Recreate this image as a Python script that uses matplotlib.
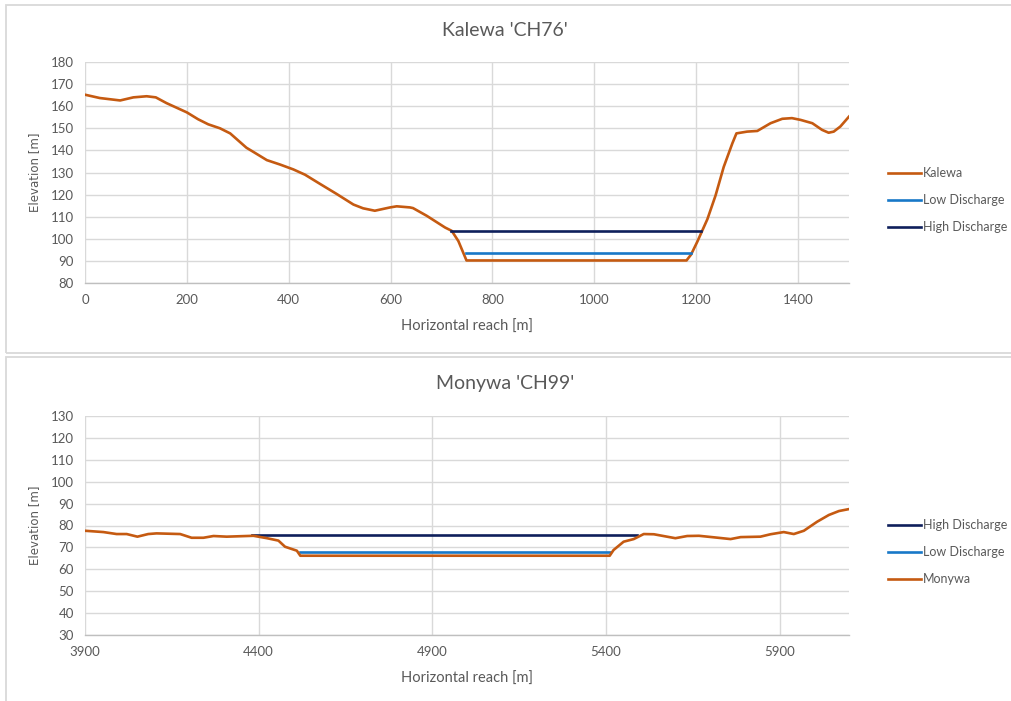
import matplotlib
matplotlib.use("Agg")
import matplotlib.pyplot as plt
from matplotlib.patches import Rectangle

# ---- Kalewa cross-section 'CH76' ----
kalewa_x = [0, 29, 69, 95, 121, 139, 160, 200, 222, 242, 265, 285, 317, 330, 357,
            383, 409, 432, 461, 494, 527, 546, 569, 599, 612, 638, 644, 671, 707,
            720, 733, 749, 1181, 1190, 1202, 1222, 1238, 1254, 1271, 1279, 1300,
            1320, 1346, 1369, 1388, 1405, 1428, 1447, 1460, 1470, 1483, 1500]
kalewa_z = [165.2, 163.7, 162.6, 164.0, 164.5, 164.0, 161.4, 157.2, 154.1, 151.8,
            150.0, 147.7, 141.2, 139.4, 135.6, 133.6, 131.4, 129.0, 124.9, 120.3,
            115.5, 113.8, 112.7, 114.2, 114.7, 114.2, 113.9, 110.4, 105.1, 103.6,
            99.0, 90.2, 90.2, 92.9, 98.6, 108.9, 119.6, 132.5, 143.2, 147.7, 148.5,
            148.8, 152.3, 154.3, 154.6, 153.8, 152.3, 149.3, 148.0, 148.5, 150.8,
            155.3]
kalewa_low_x = [748, 1190]
kalewa_low_z = [93.5, 93.5]
kalewa_high_x = [718, 1210]
kalewa_high_z = [103.6, 103.6]

# ---- Monywa cross-section 'CH99' ----
monywa_x = [3900, 3953, 3991, 4020, 4051, 4082, 4106, 4174, 4207, 4241, 4270, 4308,
            4385, 4424, 4457, 4476, 4510, 4520, 5411, 5422, 5451, 5480, 5509, 5538,
            5600, 5634, 5668, 5711, 5759, 5788, 5845, 5874, 5912, 5941, 5970, 6008,
            6042, 6071, 6100]
monywa_z = [77.6, 77.0, 76.1, 76.1, 74.9, 76.1, 76.4, 76.1, 74.4, 74.4, 75.2, 74.9,
            75.3, 74.2, 73.1, 70.3, 68.5, 66.2, 66.2, 68.8, 72.6, 73.8, 76.1, 76.0,
            74.2, 75.2, 75.3, 74.6, 73.8, 74.7, 74.9, 76.0, 77.0, 76.1, 77.6, 81.7,
            84.8, 86.6, 87.5]
monywa_low_x = [4520, 5411]
monywa_low_z = [68.0, 68.0]
monywa_high_x = [4380, 5490]
monywa_high_z = [75.5, 75.5]

ORANGE = "#C55A11"
LOWBLUE = "#1878C8"
NAVY = "#0E1F5B"
GRID = "#D9D9D9"
TEXT = "#595959"
FONT = ["Lato", "DejaVu Sans"]

plt.rcParams["font.family"] = FONT

W, H = 1011, 701
fig = plt.figure(figsize=(W / 100, H / 100), dpi=100)


def fx(px):
    return px / W


def fy(py):
    return 1 - py / H


# panel frames
fig.patches.append(Rectangle((fx(6), fy(353)), fx(1020 - 6), fy(5) - fy(353),
                             transform=fig.transFigure, fill=False,
                             edgecolor=GRID, linewidth=1.3, zorder=0))
fig.patches.append(Rectangle((fx(6), fy(720)), fx(1020 - 6), fy(357) - fy(720),
                             transform=fig.transFigure, fill=False,
                             edgecolor=GRID, linewidth=1.3, zorder=0))


def style_axes(ax, xlim, ylim, xticks, yticks):
    ax.set_xlim(*xlim)
    ax.set_ylim(*ylim)
    ax.set_xticks(xticks)
    ax.set_yticks(yticks)
    ax.grid(True, color=GRID, linewidth=1.0)
    ax.set_axisbelow(True)
    for s in ("top", "right", "left"):
        ax.spines[s].set_visible(False)
    ax.spines["bottom"].set_color("#BFBFBF")
    ax.spines["bottom"].set_linewidth(1.0)
    ax.tick_params(length=0, labelsize=9.5, colors=TEXT, pad=8)
    ax.set_xlabel("Horizontal reach [m]", fontsize=10.5, color=TEXT, labelpad=10)
    ax.set_ylabel("Elevation [m]", fontsize=8.5, color=TEXT, labelpad=7,
                  family="DejaVu Sans")


lw = 1.9
legend_kw = dict(loc="center left", frameon=False, fontsize=9, labelcolor=TEXT,
                 handlelength=2.6, handletextpad=0.2, labelspacing=1.2, borderpad=0)

# top chart
ax1 = fig.add_axes([fx(85), fy(283), fx(849) - fx(85), fy(62) - fy(283)])
style_axes(ax1, (0, 1500), (80, 180), range(0, 1401, 200), range(80, 181, 10))
l_k, = ax1.plot(kalewa_x, kalewa_z, color=ORANGE, lw=lw, label="Kalewa")
l_kl, = ax1.plot(kalewa_low_x, kalewa_low_z, color=LOWBLUE, lw=lw, label="Low Discharge")
l_kh, = ax1.plot(kalewa_high_x, kalewa_high_z, color=NAVY, lw=lw, label="High Discharge")
fig.text(fx(505), fy(31), "Kalewa 'CH76'", ha="center", va="center",
         fontsize=14, color=TEXT)
fig.legend(handles=[l_k, l_kl, l_kh], bbox_to_anchor=(fx(882), fy(200)), **legend_kw)

# bottom chart
ax2 = fig.add_axes([fx(85), fy(635), fx(849) - fx(85), fy(416) - fy(635)])
style_axes(ax2, (3900, 6100), (30, 130), range(3900, 6000, 500), range(30, 131, 10))
l_mh, = ax2.plot(monywa_high_x, monywa_high_z, color=NAVY, lw=lw, label="High Discharge")
l_ml, = ax2.plot(monywa_low_x, monywa_low_z, color=LOWBLUE, lw=lw, label="Low Discharge")
l_m, = ax2.plot(monywa_x, monywa_z, color=ORANGE, lw=lw, label="Monywa")
fig.text(fx(505), fy(384), "Monywa 'CH99'", ha="center", va="center",
         fontsize=14, color=TEXT)
fig.legend(handles=[l_mh, l_ml, l_m], bbox_to_anchor=(fx(882), fy(552)), **legend_kw)

fig.savefig("out.png", dpi=100, facecolor="white")
